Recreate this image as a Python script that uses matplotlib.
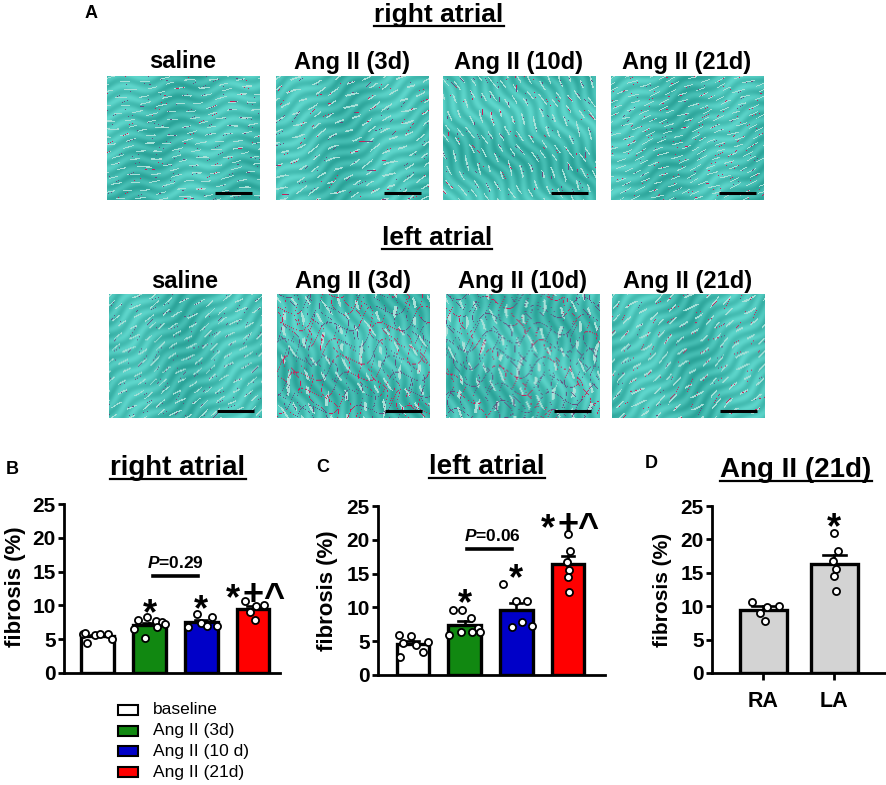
import numpy as np
import matplotlib
matplotlib.use("Agg")
import matplotlib.pyplot as plt
from matplotlib.patches import Rectangle

plt.rcParams['font.family'] = ['Liberation Sans', 'DejaVu Sans']
plt.rcParams['font.weight'] = 'bold'
plt.rcParams['mathtext.fontset'] = 'custom'
plt.rcParams['mathtext.it'] = 'Liberation Sans:italic:bold'
plt.rcParams['mathtext.rm'] = 'Liberation Sans:bold'

W, H = 886, 785

# ---- data (fibrosis %, individual animals) ----
groups = ['baseline', 'Ang II (3d)', 'Ang II (10 d)', 'Ang II (21d)']
colors = ['white', '#118811', '#0000c8', '#ff0000']

ra_baseline = [5.8, 4.5, 5.6, 5.9, 5.7, 5.8, 5.0]
ra_3d = [7.8, 8.3, 7.7, 7.5, 6.5, 5.2, 6.8, 7.2]
ra_10d = [6.8, 7.4, 8.3, 8.8, 7.0, 6.9]
ra_21d = [10.7, 9.9, 10.0, 7.8, 9.0]

la_baseline = [5.9, 4.8, 5.7, 2.7, 4.5, 3.4, 4.9]
la_3d = [9.6, 9.6, 8.4, 6.9, 5.9, 6.4, 6.3, 6.4]
la_10d = [13.5, 11.0, 11.0, 7.1, 7.9, 7.3]
la_21d = [20.9, 18.3, 16.7, 15.5, 14.5, 12.3]

yticks = [0, 5, 10, 15, 20, 25]
img_labels = ['saline', 'Ang II (3d)', 'Ang II (10d)', 'Ang II (21d)']

# horizontal jitter of the dots (layout only)
jit7 = [-0.28, -0.2, -0.05, -0.25, 0.05, 0.2, 0.28]
jit8 = [-0.22, -0.05, 0.12, 0.25, -0.3, -0.08, 0.15, 0.3]
jit6 = [-0.25, 0.0, 0.2, -0.08, 0.12, 0.3]
jit5 = [-0.15, 0.05, 0.22, 0.03, -0.05]
jit6b = [0.0, 0.05, -0.02, 0.02, 0.0, 0.03]


def fx(px):
    return px / W


def fy(py):
    return 1 - py / H


def pax(x0, y0, x1, y1):
    return fig.add_axes([fx(x0), fy(y1), fx(x1) - fx(x0), fy(y0) - fy(y1)])


def tissue(angle, freq, red, mesh=False, h=124, w=153):
    # stylised Masson-type stain texture (decoration only)
    y, x = np.mgrid[0:h, 0:w] / 25.0
    a = np.deg2rad(angle)
    u = x * np.cos(a) + y * np.sin(a)
    v = -x * np.sin(a) + y * np.cos(a)
    img = np.ones((h, w, 3)) * np.array([0.27, 0.74, 0.70])
    shade = 0.05 * np.sin(u * 1.3 + v * 0.9) + 0.05 * np.sin(v * 13 + 2 * np.sin(u * 3))
    img += shade[..., None]
    s = np.sin(v * freq + 1.6 * np.sin(u * 2.3 + v * 1.9))
    s2 = np.sin(u * 7.7 + 3.0 * np.sin(v * 4.1))
    light = (s > 0.88) & (s2 > 0.0)
    img[light] = [0.66, 0.88, 0.85]
    ln = (np.abs(np.sin(v * freq * 0.45 + 2.3 * np.sin(u * 1.7))) < 0.05) & (s2 > 0.3)
    if mesh:
        m1 = np.abs(np.sin(u * 4.5 + 1.5 * np.sin(v * 3.3))) < 0.05
        m2 = np.abs(np.sin(v * 6 + 1.2 * np.sin(u * 4))) < 0.05
        ln = ln | m1 | m2
    img[ln] = [0.40, 0.30, 0.50]
    rd = ln & (np.sin(u * 2 + v * 3) > 1 - 2 * red)
    img[rd] = [0.80, 0.12, 0.35]
    return np.clip(img, 0, 1)


fig = plt.figure(figsize=(W / 100, H / 100), dpi=100)


def under_title(px, py, s, fs):
    t = fig.text(fx(px), fy(py), s, fontsize=fs, fontweight='bold', ha='center', va='baseline')
    r = fig.canvas.get_renderer()
    bb = t.get_window_extent(renderer=r)
    yy = fy(py + 4)
    fig.add_artist(plt.Line2D([bb.x0 / W, bb.x1 / W], [yy, yy], color='black', lw=1.6))


# ---- panel A: histology ----
fig.text(fx(91), fy(13), 'A', fontsize=13, fontweight='bold', ha='center', va='center')
under_title(439, 22, 'right atrial', 19)
under_title(437, 245, 'left atrial', 19)

row1_x = [107, 276, 443, 611]
row2_x = [109, 277, 446, 612]
row1_par = [(-8, 22, 0.15, False), (-28, 16, 0.5, False), (62, 18, 0.3, False), (-22, 26, 0.8, False)]
row2_par = [(-35, 20, 0.0, False), (70, 10, 0.5, True), (80, 10, 0.2, True), (-40, 16, 0.9, False)]

for xs, top, lab_y, pars in [(row1_x, 76, 62, row1_par), (row2_x, 294, 282, row2_par)]:
    for x0, lab, p in zip(xs, img_labels, pars):
        fig.text(fx(x0 + 76), fy(lab_y), lab, fontsize=17, fontweight='bold', ha='center', va='center')
        ax = pax(x0, top, x0 + 153, top + 124)
        ax.imshow(tissue(*p), aspect='auto', extent=[0, 153, 124, 0])
        ax.plot([108, 145], [117, 117], color='black', lw=2.2, solid_capstyle='butt')
        ax.set_xlim(0, 153)
        ax.set_ylim(124, 0)
        ax.axis('off')


# ---- bar panels ----
def mark(ax, x, y, s, fs=26):
    lift = {'*': 0.57, '+': 0.47, '^': 0.55}
    n = len(s)
    for k, ch in enumerate(s):
        dx = (k - (n - 1) / 2) * 0.56 * fs
        ax.annotate(ch, (x, y), xytext=(dx, -lift[ch] * fs), textcoords='offset points',
                    ha='center', va='baseline', fontsize=fs, fontweight='bold',
                    annotation_clip=False)


def bars(ax, data, cols, jits, width, cap):
    for i, (vals, c, jt) in enumerate(zip(data, cols, jits)):
        vals = np.array(vals)
        m = vals.mean()
        sem = vals.std(ddof=1) / np.sqrt(len(vals))
        ax.bar(i, m, width=width, color=c, edgecolor='black', linewidth=2.4, zorder=2)
        ax.plot([i, i], [m, m + sem], color='black', lw=1.9, zorder=3)
        ax.plot([i - cap, i + cap], [m + sem, m + sem], color='black', lw=1.9, zorder=3)
        ax.scatter(i + np.array(jt[:len(vals)]), vals, s=26, facecolor='white',
                   edgecolor='black', linewidth=1.3, zorder=4, clip_on=False)


def style(ax, xlim):
    ax.set_ylim(0, 25)
    ax.set_xlim(*xlim)
    ax.set_yticks(yticks)
    for sp in ['top', 'right']:
        ax.spines[sp].set_visible(False)
    for sp in ['left', 'bottom']:
        ax.spines[sp].set_linewidth(2)
    ax.tick_params(axis='y', direction='out', length=4, width=2, labelsize=15, pad=2)
    ax.tick_params(axis='x', bottom=False, labelbottom=False)
    for t in ax.get_yticklabels():
        t.set_fontweight('bold')


# B
axB = pax(64, 504, 280, 673)
bars(axB, [ra_baseline, ra_3d, ra_10d, ra_21d], colors, [jit7, jit8, jit6, jit5], 0.63, 0.12)
style(axB, (-0.65, 3.52))
mark(axB, 1, 10.3, '*')
mark(axB, 2, 10.8, '*')
mark(axB, 3, 12.5, '*+^')
axB.plot([1.06, 1.94], [14.4, 14.4], color='black', lw=2.6)
axB.text(1.5, 15.6, r'$P$=0.29', ha='center', va='baseline', fontsize=12.5, fontweight='bold')
fig.text(fx(12), fy(469), 'B', fontsize=13, fontweight='bold', ha='center', va='center')
under_title(178, 475, 'right atrial', 20)
fig.text(fx(15), fy(587), 'fibrosis (%)', rotation=90, fontsize=16, fontweight='bold', ha='center', va='center')

# C
axC = pax(378, 506, 605, 675)
bars(axC, [la_baseline, la_3d, la_10d, la_21d], colors, [jit7, jit8, jit6, jit6b], 0.63, 0.12)
style(axC, (-0.68, 3.72))
mark(axC, 1, 12.1, '*')
mark(axC, 2, 15.8, '*')
mark(axC, 3, 23.2, '*+^')
axC.plot([1.04, 1.92], [18.6, 18.6], color='black', lw=2.6)
axC.text(1.53, 19.85, r'$P$=0.06', ha='center', va='baseline', fontsize=12.5, fontweight='bold')
fig.text(fx(323), fy(467), 'C', fontsize=13, fontweight='bold', ha='center', va='center')
under_title(487, 474, 'left atrial', 20)
fig.text(fx(327), fy(591), 'fibrosis (%)', rotation=90, fontsize=16, fontweight='bold', ha='center', va='center')

# D
axD = pax(712, 506, 886, 673)
bars(axD, [ra_21d, la_21d], ['#d3d3d3', '#d3d3d3'], [jit5, jit6b], 0.66, 0.16)
style(axD, (-0.72, 1.73))
axD.tick_params(axis='x', bottom=True, labelbottom=True, direction='out', length=5, width=2,
                labelsize=15.5, pad=8)
axD.set_xticks([0, 1])
axD.set_xticklabels(['RA', 'LA'], fontweight='bold')
mark(axD, 1, 23.2, '*')
fig.text(fx(651), fy(464), 'D', fontsize=13, fontweight='bold', ha='center', va='center')
under_title(796, 477, 'Ang II (21d)', 20)
fig.text(fx(663), fy(590), 'fibrosis (%)', rotation=90, fontsize=15, fontweight='bold', ha='center', va='center')

# legend
for k, (g, c) in enumerate(zip(groups, colors)):
    yc = 710 + k * 20.7
    fig.add_artist(Rectangle((fx(118), fy(yc + 5)), fx(20), 10 / H, facecolor=c,
                             edgecolor='black', linewidth=1.5))
    fig.text(fx(153), fy(yc), g, fontsize=12.5, fontweight='normal', ha='left', va='center')

fig.savefig('out.png', dpi=100)
